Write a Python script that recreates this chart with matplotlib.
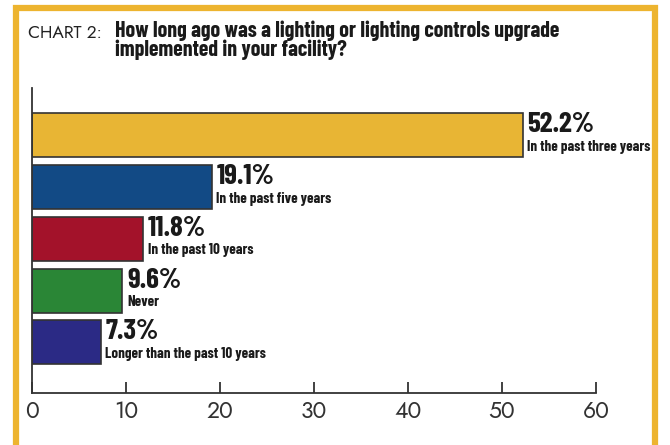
import matplotlib.pyplot as plt
from matplotlib.patches import Rectangle

categories = ['In the past three years', 'In the past five years', 'In the past 10 years',
              'Never', 'Longer than the past 10 years']
values = [52.2, 19.1, 11.8, 9.6, 7.3]
colors = ['#E8B534', '#124A85', '#A3122A', '#2A8636', '#2B2A85']
xticks = [0, 10, 20, 30, 40, 50, 60]

narrow = ['Barlow Condensed', 'Liberation Sans Narrow', 'DejaVu Sans']
light = ['Jost', 'Lato', 'DejaVu Sans']

fig = plt.figure(figsize=(6.7, 4.45), dpi=100)

# gold frame around the chart
fig.patches.append(Rectangle((16 / 670, -0.05), 639 / 670, 1 - 8 / 445 + 0.05,
                             transform=fig.transFigure, fill=False,
                             edgecolor='#EDB42F', linewidth=4.5, zorder=0))

fig.text(28 / 670, 1 - 38 / 445, 'CHART 2:', fontsize=12.5, color='#222222',
         family=light, va='baseline')
fig.text(115 / 670, 1 - 37 / 445, 'How long ago was a lighting or lighting controls upgrade',
         fontsize=15.8, fontweight='bold', family=narrow, color='#1a1a1a', va='baseline')
fig.text(115 / 670, 1 - 56 / 445, 'implemented in your facility?',
         fontsize=15.8, fontweight='bold', family=narrow, color='#1a1a1a', va='baseline')

ax = fig.add_axes([32 / 670, 1 - 393 / 445, 564 / 670, 305 / 445])
pos = list(range(len(values)))
ax.barh(pos, values, height=0.85, color=colors, edgecolor='#333333', linewidth=1.2)
ax.set_ylim(4.976, -0.908)
ax.set_xlim(0, 60)

for y, v, c in zip(pos, values, categories):
    ax.text(v + 0.5, y + 0.04, f'{v}%', fontsize=21, fontweight='bold', family=narrow,
            color='#1a1a1a', va='bottom')
    ax.text(v + 0.5, y + 0.36, c, fontsize=10.8, fontweight='bold', family=narrow,
            color='#1a1a1a', va='bottom')

ax.set_yticks([])
ax.set_xticks(xticks)
ax.tick_params(axis='x', direction='in', length=8, width=1.3, color='#333333',
               labelsize=16.5, labelcolor='#333333', pad=5)
for lab in ax.get_xticklabels():
    lab.set_family(light)
for s in ['top', 'right']:
    ax.spines[s].set_visible(False)
for s in ['left', 'bottom']:
    ax.spines[s].set_color('#333333')
    ax.spines[s].set_linewidth(1.3)

fig.savefig('out.png', dpi=100)
